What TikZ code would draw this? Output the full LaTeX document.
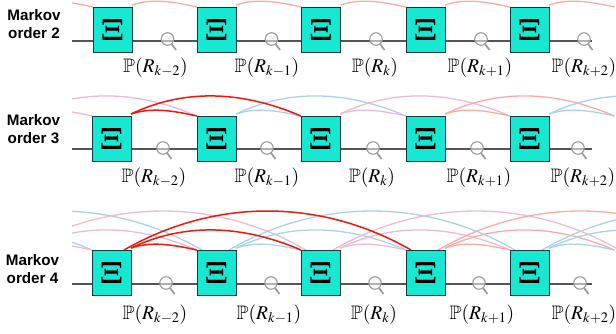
\documentclass[tikz,border=0pt]{standalone}
\usepackage{fontspec}
\usepackage{amssymb}
\usepackage{mathptmx}
\setsansfont{Liberation Sans}
\usetikzlibrary{calc}
\pgfdeclarelayer{back}
\pgfdeclarelayer{backb}
\pgfsetlayers{back,backb,main}
\definecolor{boxteal}{HTML}{17E8D2}
\definecolor{boxedge}{HTML}{123C40}
\definecolor{wirec}{HTML}{555555}
\definecolor{lensc}{HTML}{9A9A9A}
\definecolor{apink}{HTML}{F0B9D5}
\definecolor{ablue}{HTML}{ABD2EA}
\definecolor{asalm}{HTML}{FFA9A6}
\definecolor{ared}{HTML}{F2170C}
\font\xifnt=cmbx12 at 31pt
\newcommand{\bigxi}{{\xifnt\char4 }}
\tikzset{
  xibox/.style={draw=boxedge,line width=0.9pt,fill=boxteal,minimum width=39pt,minimum height=45pt,inner sep=0pt,outer sep=0pt},
  ghost/.style={minimum width=39pt,minimum height=45pt,inner sep=0pt,outer sep=0pt},
  wire/.style={draw=wirec,line width=1.1pt},
  lens/.style={circle,draw=lensc,line width=1.1pt,fill=white,fill opacity=0.55,minimum size=12.5pt,inner sep=0pt,outer sep=0pt},
  handle/.style={draw=lensc,line width=1.7pt},
  prob/.style={inner sep=0pt,text=black,font=\fontsize{19.5}{23}\selectfont},
  ordertext/.style={inner sep=0pt,align=center,font=\sffamily\bfseries\fontsize{15.2}{18}\selectfont}
}
% \bend{from}{to}{colour}{peak height}{line width}
\newcommand{\bend}[5]{%
  \path let \p1=(#1.north east),\p2=(#2.north west),\n1={(\x2-\x1)*0.33} in
    [draw=#3,line width=#5] ($(\p1)+(0pt,2pt)$) .. controls +(\n1,{(#4+2)*1.333pt}) and +({-\n1},{(#4)*1.333pt}) .. (\p2);%
}
\newcommand{\bendl}[5]{%
  \path let \p1=(#1.north east),\p2=(#2.north west),\n1={(\x2-\x1)*0.33} in
    [draw=#3,line width=#5] ($(\p1)+(-7pt,0pt)$) .. controls +(\n1,{(#4)*1.333pt}) and +({-\n1},{(#4)*1.333pt}) .. ($(\p2)+(5pt,0pt)$);%
}
\begin{document}
\begin{tikzpicture}[x=1pt,y=-1pt]
\useasboundingbox (0,0) rectangle (616,333);
% ---- nodes
\foreach \r/\yy in {1/29.5,2/138.5,3/272.5}{
  \foreach \i/\xx in {-1/-97,0/7,6/634,7/738.5,8/843}{
    \node[ghost] (r\r b\i) at (\xx,\yy) {};
  }
}
\foreach \i/\xx in {1/112.5,2/216.5,3/321,4/425.5,5/529.5}{
  \node[xibox] (r1b\i) at (\xx,29.5) {\bigxi};
}
\foreach \r/\yy in {2/138.5,3/272.5}{
  \foreach \i/\xx in {1/111.5,2/216.5,3/320.5,4/425.5,5/529.5}{
    \node[xibox] (r\r b\i) at (\xx,\yy) {\bigxi};
  }
}
% ---- wires
\coordinate (r1s) at (72,41); \coordinate (r1e) at (592,41);
\coordinate (r2s) at (72,149); \coordinate (r2e) at (592,149);
\coordinate (r3s) at (72,284); \coordinate (r3e) at (592,284);
\begin{pgfonlayer}{back}
\foreach \r/\yy in {1/41,2/149,3/284}{
  \draw[wire] (r\r s) -- (r\r b1.west |- r\r s) (r\r b1.east |- r\r s) -- (r\r b2.west |- r\r s)
     (r\r b2.east |- r\r s) -- (r\r b3.west |- r\r s)
     (r\r b3.east |- r\r s) -- (r\r b4.west |- r\r s)
     (r\r b4.east |- r\r s) -- (r\r b5.west |- r\r s)
     (r\r b5.east |- r\r s) -- (r\r e);
}
\end{pgfonlayer}
% ---- magnifiers
\foreach \r/\yy/\lst in {1/39/{1/167.5,2/271.5,3/376,4/481,5/584},2/148/{1/163,2/267,3/373,4/477,5/578},3/283/{1/166,2/271,3/375,4/479,5/580}}{
  \foreach \i/\xx in \lst {
    \node[lens] (r\r m\i) at (\xx,\yy) {};
    \coordinate (r\r h\i) at (\xx+8.5,\yy+11);
    \draw[handle] (r\r m\i) ++(4.2,5.2) -- (r\r h\i);
  }
}
% ---- arcs
\begin{pgfonlayer}{backb}
\clip (72,0) rectangle (616,333);
\foreach \a/\b in {0/1,1/2,2/3,3/4,4/5,5/6}{ \bend{r1b\a}{r1b\b}{asalm}{3.5}{1.3pt} }
\foreach \a/\b/\c/\col in {0/1/2/apink,2/3/4/ablue,3/4/5/apink,4/5/6/asalm,5/6/7/ablue}{
  \bend{r2b\a}{r2b\b}{\col}{3.5}{1.3pt}
  \bend{r2b\a}{r2b\c}{\col}{18}{1.3pt}
}
\foreach \a/\b/\c/\d/\col in {-1/0/1/2/ablue,0/1/2/3/apink,2/3/4/5/ablue,3/4/5/6/apink,4/5/6/7/asalm,5/6/7/8/ablue}{
  \bend{r3b\a}{r3b\b}{\col}{3.5}{1.3pt}
  \bend{r3b\a}{r3b\c}{\col}{18}{1.3pt}
  \bendl{r3b\a}{r3b\d}{\col}{39}{1.3pt}
}
\bend{r2b1}{r2b2}{ared}{3.5}{1.5pt}
\bend{r2b1}{r2b3}{ared}{18}{1.5pt}
\bend{r3b1}{r3b2}{ared}{3.5}{1.5pt}
\bend{r3b1}{r3b3}{ared}{18}{1.5pt}
\bendl{r3b1}{r3b4}{ared}{39}{1.5pt}
\end{pgfonlayer}
% ---- labels
\node[ordertext] (t1) at (34,24) {Markov\\order 2};
\node[ordertext] (t2) at (33.5,129.5) {Markov\\order 3};
\node[ordertext] (t3) at (32.5,269.5) {Markov\\order 4};
\foreach \r/\yy/\lst in {1/72/{155.5/k-2,267/k-1,375/k,480/k+1,584/k+2},2/182/{154/k-2,267/k-1,372/k,479/k+1,583/k+2},3/319/{155/k-2,269/k-1,374/k,482/k+1,584/k+2}}{
  \foreach \xx/\s in \lst {
    \node[prob,anchor=base] (r\r p\xx) at (\xx,\yy) {$\mathbb{P}(R_{\s})$};
  }
}
\end{tikzpicture}
\end{document}
